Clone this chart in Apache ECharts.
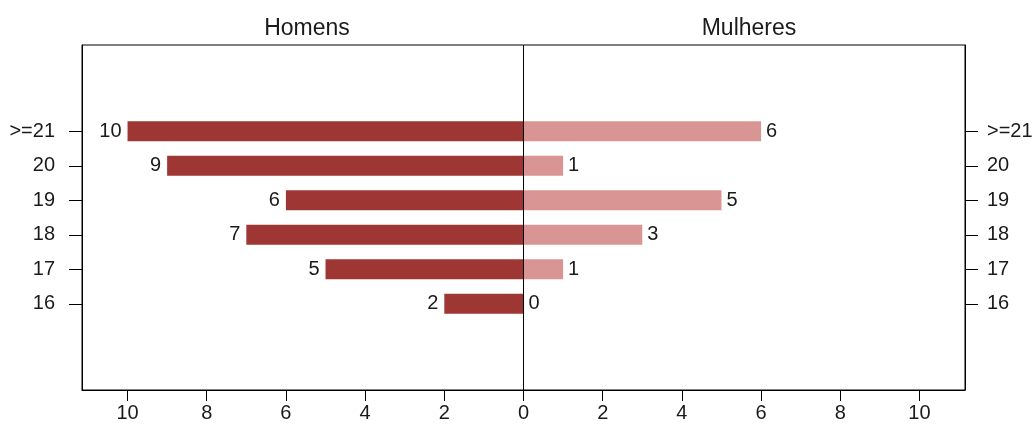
<!DOCTYPE html>
<html>
<head>
<meta charset="utf-8">
<script src="https://cdn.jsdelivr.net/npm/echarts@6/dist/echarts.min.js"></script>
<style>html,body{margin:0;padding:0;background:#fff;}#c{width:1032px;height:435px;}</style>
</head>
<body>
<div id="c"></div>
<script>
var categories = ['16', '17', '18', '19', '20', '>=21'];
var homens = [2, 5, 7, 6, 9, 10];
var mulheres = [0, 1, 3, 5, 1, 6];
var xTicks = [-10, -8, -6, -4, -2, 0, 2, 4, 6, 8, 10];
var titles = ['Homens', 'Mulheres'];

var cats = ['', ''].concat(categories).concat(['', '']);
function padArr(a) { return [null, null].concat(a).concat([null, null]); }
var homensNeg = padArr(homens.map(function (v) { return -v; }));
var mulheresP = padArr(mulheres);

var font = '"Liberation Sans", Arial, sans-serif';
var txt = '#1a1a1a';
var chart = echarts.init(document.getElementById('c'), null, { renderer: 'canvas' });
var tickInt = function (idx, val) { return val !== ''; };
function yAxisDef(pos, margin) {
  return {
    type: 'category', data: cats, boundaryGap: true, position: pos,
    axisLine: { show: true, onZero: false, lineStyle: { color: '#000', width: 1 } },
    axisTick: { show: true, alignWithLabel: true, interval: tickInt, length: 13, lineStyle: { color: '#000' } },
    axisLabel: { interval: 0, margin: margin, fontFamily: font, fontSize: 20, color: txt },
    splitLine: { show: false }
  };
}
chart.setOption({
  animation: false,
  backgroundColor: '#fff',
  title: [
    { text: titles[0], left: 302, top: 12, textAlign: 'center', textStyle: { fontFamily: font, fontSize: 23, fontWeight: 'normal', color: txt } },
    { text: titles[1], left: 744, top: 12, textAlign: 'center', textStyle: { fontFamily: font, fontSize: 23, fontWeight: 'normal', color: txt } }
  ],
  grid: { left: 82, right: 67, top: 45, bottom: 45, show: true, borderColor: '#000', borderWidth: 1, containLabel: false, outerBoundsMode: 'none' },
  xAxis: {
    type: 'value', min: -11.15, max: 11.15,
    axisLine: { show: true, onZero: false, lineStyle: { color: '#000' } },
    axisTick: { show: true, customValues: xTicks, length: 11, lineStyle: { color: '#000' } },
    axisLabel: { customValues: xTicks, margin: 13, fontFamily: font, fontSize: 20, color: txt, formatter: function (v) { return String(Math.abs(v)); } },
    splitLine: { show: false }
  },
  yAxis: [yAxisDef('left', 27), yAxisDef('right', 22)],
  series: [
    {
      name: titles[0], type: 'bar', data: homensNeg, yAxisIndex: 0, barWidth: 20, barGap: '-100%',
      itemStyle: { color: '#9e3634' },
      label: { show: true, position: 'left', distance: 6, fontFamily: font, fontSize: 20, color: txt, formatter: function (p) { return String(Math.abs(p.value)); } },
      markLine: { silent: true, symbol: 'none', label: { show: false }, lineStyle: { color: '#000', width: 1, type: 'solid' }, data: [{ xAxis: 0 }] }
    },
    {
      name: titles[1], type: 'bar', data: mulheresP, yAxisIndex: 0, barWidth: 20, barGap: '-100%',
      itemStyle: { color: '#d99594' },
      label: { show: true, position: 'right', distance: 5, fontFamily: font, fontSize: 20, color: txt }
    }
  ]
});
</script>
</body>
</html>
